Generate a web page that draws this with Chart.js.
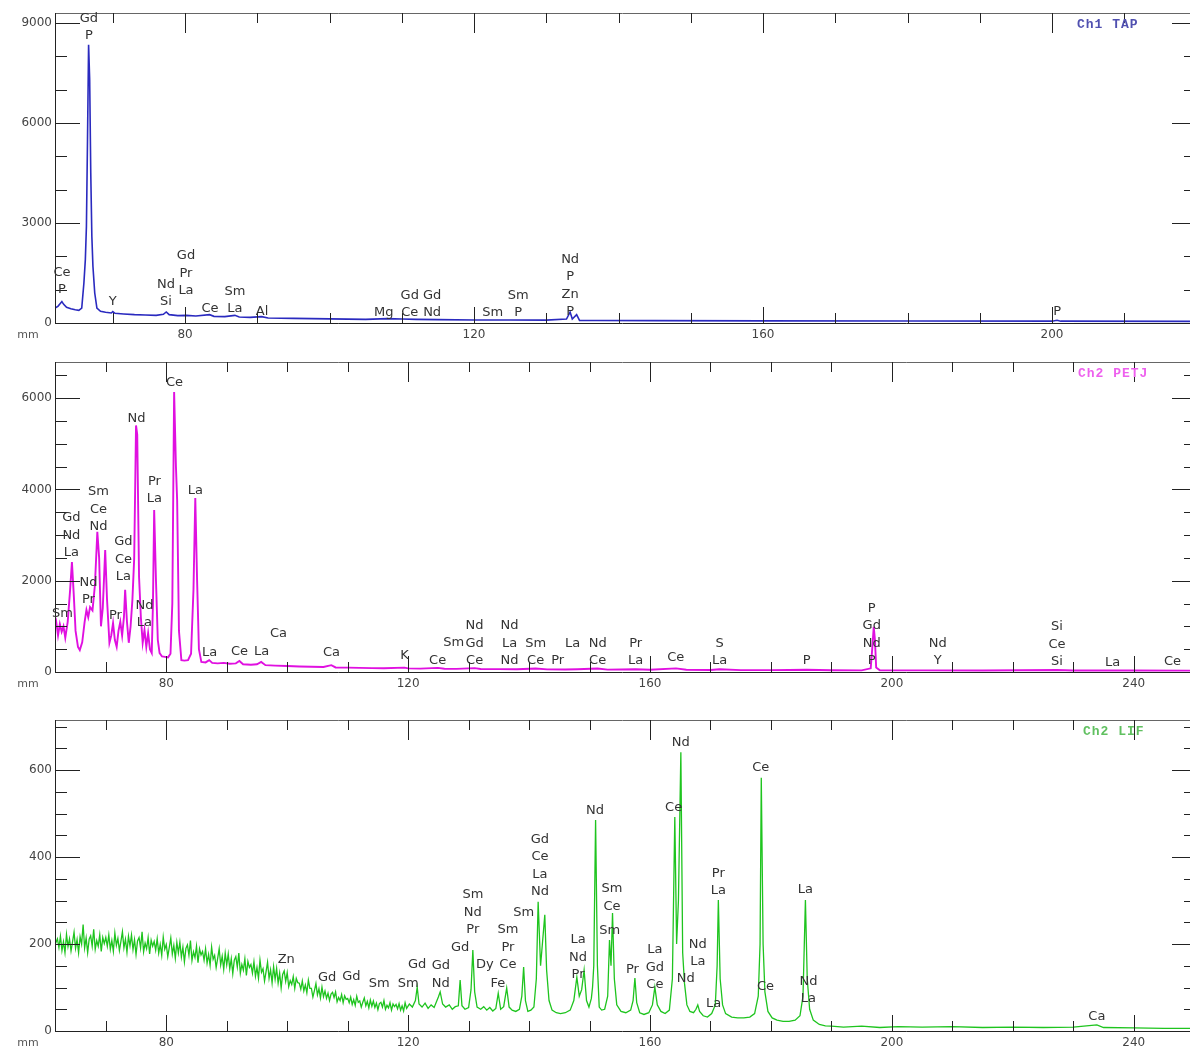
<!DOCTYPE html>
<html>
<head>
<meta charset="utf-8">
<script src="https://cdn.jsdelivr.net/npm/chart.js@4.4.1/dist/chart.umd.min.js"></script>
<style>
html, body { margin: 0; padding: 0; background: #fff; }
body { width: 1191px; height: 1049px; position: relative; overflow: hidden; }
canvas { position: absolute; left: 0; }
</style>
</head>
<body>
<canvas id="tap" width="1191" height="348" style="top:0px"></canvas>
<canvas id="petj" width="1191" height="348" style="top:348px"></canvas>
<canvas id="lif" width="1191" height="353" style="top:696px"></canvas>
<script>
// x tick labels (mm) shared by the three spectrometers
var xTickLabels = [80, 120, 160, 200, 240];

// y tick labels per channel
var tapYTicks = [0, 3000, 6000, 9000];
var petjYTicks = [0, 2000, 4000, 6000];
var lifYTicks = [0, 200, 400, 600];

// Ch1 TAP spectrum [mm, counts]
var tapSpectrum = [
  [62.0, 450], [62.4, 500], [62.7, 580], [62.95, 640], [63.2, 560], [63.6, 470],
  [64.2, 430], [64.8, 400], [65.3, 380], [65.7, 450], [66.0, 1200], [66.2, 1900],
  [66.35, 2900], [66.5, 5500], [66.65, 8350], [66.8, 7300], [66.95, 4500], [67.1, 2600],
  [67.25, 1700], [67.5, 900], [67.8, 450], [68.3, 350], [69.0, 320], [69.8, 300],
  [70.0, 340], [70.3, 290], [71.5, 270], [73.0, 250], [74.5, 240], [76.0, 230],
  [77.0, 260], [77.4, 330], [77.8, 250], [79.0, 220], [80.2, 230], [81.5, 210],
  [83.4, 250], [84.0, 200], [85.5, 190], [86.9, 230], [87.5, 180], [89.0, 170],
  [90.6, 190], [91.5, 150], [95.0, 140], [100.0, 125], [105.0, 110], [108.0, 130],
  [110.0, 120], [112.0, 110], [115.0, 100], [120.0, 90], [125.0, 90], [130.0, 85],
  [132.8, 120], [133.3, 330], [133.6, 120], [134.2, 250], [134.6, 80], [137.0, 75],
  [145.0, 70], [160.0, 65], [180.0, 60], [200.0, 55], [200.7, 80], [201.2, 55], [219.2, 50]
];

// Ch2 PETJ spectrum [mm, counts]
var petjSpectrum = [
  [61.5, 950], [61.8, 1100], [62.1, 800], [62.4, 1050], [62.7, 880], [63.0, 1000],
  [63.3, 750], [63.7, 1100], [64.1, 1800], [64.4, 2410], [64.7, 1700], [65.0, 900],
  [65.4, 550], [65.7, 480], [66.1, 650], [66.5, 1100], [66.8, 1360], [67.1, 1200],
  [67.4, 1420], [67.8, 1350], [68.2, 1900], [68.6, 3070], [68.9, 2500], [69.2, 1000],
  [69.5, 1400], [69.9, 2670], [70.2, 1600], [70.6, 640], [70.9, 800], [71.2, 1070],
  [71.5, 700], [71.8, 550], [72.1, 900], [72.4, 1100], [72.7, 800], [73.0, 1200],
  [73.2, 1800], [73.5, 1100], [73.8, 640], [74.1, 1000], [74.4, 1580], [74.7, 2500],
  [75.0, 5400], [75.2, 5200], [75.5, 2080], [75.8, 1200], [76.1, 640], [76.4, 920],
  [76.7, 550], [77.0, 850], [77.3, 500], [77.6, 415], [77.8, 1500], [78.0, 3550],
  [78.3, 2000], [78.6, 700], [78.9, 415], [79.3, 340], [79.8, 330], [80.3, 320],
  [80.7, 400], [81.0, 1500], [81.3, 6130], [81.6, 4500], [81.8, 3760], [82.1, 900],
  [82.5, 260], [83.0, 250], [83.6, 260], [84.1, 400], [84.5, 1800], [84.8, 3810],
  [85.1, 2000], [85.4, 500], [85.8, 220], [86.5, 210], [87.1, 260], [87.6, 200],
  [88.5, 190], [89.5, 200], [90.5, 180], [91.5, 190], [92.1, 240], [92.7, 170],
  [94.0, 160], [95.0, 170], [95.7, 220], [96.4, 150], [98.0, 140], [100.0, 130],
  [102.0, 120], [104.0, 115], [106.0, 110], [107.3, 150], [108.0, 100], [110.0, 95],
  [112.0, 90], [114.0, 85], [116.0, 82], [119.4, 95], [120.0, 80], [122.0, 75],
  [124.9, 90], [126.0, 70], [128.0, 68], [131.0, 85], [132.0, 65], [135.0, 62],
  [138.0, 60], [141.1, 75], [143.0, 58], [146.0, 55], [148.0, 60], [151.3, 75],
  [153.0, 52], [157.6, 60], [160.0, 50], [164.3, 80], [166.0, 48], [170.0, 45],
  [171.5, 60], [175.0, 42], [180.0, 40], [185.9, 50], [190.0, 38], [195.0, 36],
  [196.5, 80], [196.8, 600], [197.0, 990], [197.2, 700], [197.4, 100], [198.0, 38],
  [205.0, 36], [215.0, 34], [227.3, 45], [230.0, 33], [240.0, 32], [249.4, 30]
];

// Ch2 LIF spectrum [mm, counts], noisy background read as closely as possible
var lifSpectrum = [
  [61.6, 198],
  [62.0, 212], [62.25, 192], [62.5, 218], [62.75, 185], [63.0, 205], [63.25, 180], [63.5, 222], [63.75, 194],
  [64.0, 212], [64.25, 184], [64.5, 205], [64.75, 227], [65.0, 190], [65.25, 210], [65.5, 180], [65.75, 217],
  [66.0, 200], [66.25, 245], [66.5, 191], [66.75, 214], [67.0, 180], [67.25, 211], [67.5, 219], [67.75, 195],
  [68.0, 234], [68.25, 188], [68.5, 208], [68.75, 195], [69.0, 221], [69.25, 183], [69.5, 215], [69.75, 201],
  [70.0, 215], [70.25, 195], [70.5, 221], [70.75, 188], [71.0, 208], [71.25, 183], [71.5, 225], [71.75, 197],
  [72.0, 213], [72.25, 185], [72.5, 206], [72.75, 228], [73.0, 191], [73.25, 211], [73.5, 181], [73.75, 218],
  [74.0, 196], [74.25, 221], [74.5, 187], [74.75, 210], [75.0, 176], [75.25, 207], [75.5, 215], [75.75, 191],
  [76.0, 228], [76.25, 182], [76.5, 202], [76.75, 189], [77.0, 215], [77.25, 177], [77.5, 209], [77.75, 195],
  [78.0, 206], [78.25, 186], [78.5, 212], [78.75, 179], [79.0, 199], [79.25, 174], [79.5, 216], [79.75, 188],
  [80.0, 199], [80.25, 171], [80.5, 192], [80.75, 214], [81.0, 177], [81.25, 197], [81.5, 167], [81.75, 204],
  [82.0, 179], [82.25, 204], [82.5, 170], [82.75, 193], [83.0, 159], [83.25, 190], [83.5, 198], [83.75, 174],
  [84.0, 208], [84.25, 162], [84.5, 182], [84.75, 169], [85.0, 195], [85.25, 157], [85.5, 189], [85.75, 175],
  [86.0, 183], [86.25, 163], [86.5, 189], [86.75, 156], [87.0, 176], [87.25, 151], [87.5, 193], [87.75, 165],
  [88.0, 174], [88.25, 146], [88.5, 167], [88.75, 189], [89.0, 152], [89.25, 172], [89.5, 142], [89.75, 179],
  [90.0, 152], [90.25, 177], [90.5, 143], [90.75, 166], [91.0, 132], [91.25, 163], [91.5, 171], [91.75, 147],
  [92.0, 179], [92.25, 133], [92.5, 153], [92.75, 140], [93.0, 166], [93.25, 128], [93.5, 160], [93.75, 146],
  [94.0, 153], [94.25, 133], [94.5, 159], [94.75, 126], [95.0, 146], [95.25, 121], [95.5, 163], [95.75, 135],
  [96.0, 143], [96.25, 115], [96.5, 136], [96.75, 158], [97.0, 121], [97.25, 141], [97.5, 111], [97.75, 148],
  [98.0, 119], [98.25, 144], [98.5, 110], [98.75, 133], [99.0, 99], [99.25, 130], [99.5, 138], [99.75, 114],
  [100.0, 134], [100.25, 102], [100.5, 116], [100.75, 107], [101.0, 125], [101.25, 98], [101.5, 121], [101.75, 111],
  [102.0, 110], [102.25, 96], [102.5, 115], [102.75, 92], [103.0, 106], [103.25, 88], [103.5, 117], [103.75, 98],
  [104.0, 98], [104.25, 78], [104.5, 93], [104.75, 109], [105.0, 83], [105.25, 97], [105.5, 76], [105.75, 101],
  [106.0, 79], [106.25, 92], [106.5, 75], [106.75, 87], [107.0, 70], [107.25, 85], [107.5, 89], [107.75, 77],
  [108.0, 90], [108.25, 67], [108.5, 77], [108.75, 70], [109.0, 84], [109.25, 65], [109.5, 81], [109.75, 73],
  [110.0, 75], [110.25, 65], [110.5, 78], [110.75, 61], [111.0, 72], [111.25, 59], [111.5, 80], [111.75, 66],
  [112.0, 69], [112.25, 55], [112.5, 66], [112.75, 76], [113.0, 58], [113.25, 68], [113.5, 53], [113.75, 71],
  [114.0, 57], [114.25, 69], [114.5, 54], [114.75, 64], [115.0, 49], [115.25, 63], [115.5, 66], [115.75, 55],
  [116.0, 70], [116.25, 50], [116.5, 59], [116.75, 53], [117.0, 65], [117.25, 48], [117.5, 62], [117.75, 56],
  [118.0, 61], [118.25, 51], [118.5, 63], [118.75, 48], [119.0, 58], [119.25, 46], [119.5, 65], [119.75, 52],
  [120.2, 62], [120.7, 55], [121.2, 70], [121.5, 101], [121.8, 62], [122.3, 55],
  [122.8, 64], [123.3, 52], [123.8, 60], [124.3, 54], [125.0, 78], [125.3, 90],
  [125.7, 62], [126.2, 55], [126.8, 60], [127.3, 50], [127.8, 56], [128.3, 58],
  [128.6, 117], [128.9, 58], [129.4, 50], [130.0, 54], [130.4, 95], [130.7, 186],
  [131.0, 90], [131.4, 55], [132.0, 50], [132.5, 56], [133.0, 48], [133.5, 54],
  [134.0, 46], [134.5, 52], [134.9, 87], [135.3, 50], [135.8, 56], [136.3, 99],
  [136.7, 55], [137.2, 48], [137.8, 45], [138.4, 50], [138.8, 80], [139.1, 147],
  [139.4, 70], [139.8, 45], [140.3, 48], [140.8, 55], [141.2, 120], [141.5, 297],
  [141.9, 150], [142.2, 200], [142.6, 267], [142.9, 140], [143.3, 70], [143.8, 48],
  [144.5, 42], [145.2, 40], [146.0, 42], [146.8, 48], [147.4, 70], [147.9, 124],
  [148.3, 80], [148.7, 95], [149.1, 140], [149.5, 70], [149.9, 55], [150.3, 75],
  [150.5, 101], [150.7, 150], [151.0, 485], [151.3, 150], [151.6, 55], [152.0, 48],
  [152.5, 50], [153.0, 80], [153.3, 209], [153.55, 150], [153.8, 271], [154.1, 120],
  [154.5, 60], [155.2, 45], [156.0, 42], [156.8, 48], [157.2, 70], [157.5, 122],
  [157.8, 65], [158.3, 42], [159.0, 38], [159.8, 42], [160.4, 60], [160.8, 101],
  [161.2, 60], [161.8, 45], [162.5, 40], [163.2, 48], [163.7, 120], [164.1, 492],
  [164.4, 200], [164.7, 300], [165.1, 641], [165.4, 180], [165.7, 110], [166.1, 60],
  [166.6, 45], [167.2, 42], [167.6, 50], [167.9, 60], [168.2, 45], [168.8, 35],
  [169.5, 32], [170.2, 40], [170.8, 60], [171.1, 150], [171.3, 301], [171.6, 120],
  [172.0, 60], [172.5, 40], [173.5, 32], [174.5, 30], [175.5, 30], [176.5, 32],
  [177.3, 40], [177.9, 80], [178.2, 200], [178.4, 582], [178.7, 200], [179.0, 90],
  [179.5, 45], [180.2, 30], [181.0, 25], [182.0, 22], [183.0, 22], [184.0, 25],
  [184.8, 35], [185.3, 80], [185.7, 301], [186.0, 120], [186.4, 50], [187.0, 25],
  [188.0, 15], [189.0, 12], [190.0, 11], [192.0, 9], [195.0, 11], [198.0, 8],
  [201.0, 10], [205.0, 9], [210.0, 10], [215.0, 8], [220.0, 9], [225.0, 8],
  [230.0, 9], [233.9, 14], [235.0, 8], [240.0, 7], [245.0, 6], [249.4, 6]
];

// peak labels [mm, counts of lowest line, lines top to bottom]
var tapPeakLabels = [
  [62.97, 990, ['Ce', 'P']],
  [66.7, 8610, ['Gd', 'P']],
  [70.0, 630, ['Y']],
  [77.36, 630, ['Nd', 'Si']],
  [80.13, 960, ['Gd', 'Pr', 'La']],
  [83.45, 420, ['Ce']],
  [86.9, 420, ['Sm', 'La']],
  [90.65, 330, ['Al']],
  [107.5, 300, ['Mg']],
  [111.1, 300, ['Gd', 'Ce']],
  [114.2, 300, ['Gd', 'Nd']],
  [122.6, 300, ['Sm']],
  [126.1, 300, ['Sm', 'P']],
  [133.3, 330, ['Nd', 'P', 'Zn', 'P']],
  [200.7, 330, ['P']]
];

var petjPeakLabels = [
  [62.82, 1270, ['Sm']],
  [64.31, 2606, ['Gd', 'Nd', 'La']],
  [67.13, 1577, ['Nd', 'Pr']],
  [68.78, 3176, ['Sm', 'Ce', 'Nd']],
  [71.59, 1226, ['Pr']],
  [72.92, 2080, ['Gd', 'Ce', 'La']],
  [75.07, 5541, ['Nd']],
  [76.39, 1073, ['Nd', 'La']],
  [78.05, 3789, ['Pr', 'La']],
  [81.35, 6329, ['Ce']],
  [84.83, 3964, ['La']],
  [87.15, 416, ['La']],
  [92.11, 438, ['Ce']],
  [95.75, 438, ['La']],
  [98.56, 832, ['Ca']],
  [107.33, 416, ['Ca']],
  [119.41, 350, ['K']],
  [124.87, 241, ['Ce']],
  [127.52, 635, ['Sm']],
  [130.99, 241, ['Nd', 'Gd', 'Ce']],
  [136.78, 241, ['Nd', 'La', 'Nd']],
  [141.08, 241, ['Sm', 'Ce']],
  [144.72, 241, ['Pr']],
  [147.2, 613, ['La']],
  [151.34, 241, ['Nd', 'Ce']],
  [157.63, 241, ['Pr', 'La']],
  [164.25, 307, ['Ce']],
  [171.5, 241, ['S', 'La']],
  [185.9, 241, ['P']],
  [196.67, 241, ['P', 'Gd', 'Nd', 'P']],
  [207.6, 241, ['Nd', 'Y']],
  [227.3, 219, ['Si', 'Ce', 'Si']],
  [236.5, 197, ['La']],
  [246.4, 219, ['Ce']]
];

var lifPeakLabels = [
  [99.84, 163, ['Zn']],
  [106.6, 122, ['Gd']],
  [110.6, 124, ['Gd']],
  [115.2, 108, ['Sm']],
  [120.0, 110, ['Sm']],
  [121.5, 152, ['Gd']],
  [125.4, 110, ['Gd', 'Nd']],
  [128.6, 191, ['Gd']],
  [130.7, 232, ['Sm', 'Nd', 'Pr']],
  [132.7, 152, ['Dy']],
  [134.85, 110, ['Fe']],
  [136.5, 152, ['Sm', 'Pr', 'Ce']],
  [139.1, 271, ['Sm']],
  [141.8, 320, ['Gd', 'Ce', 'La', 'Nd']],
  [148.1, 129, ['La', 'Nd', 'Pr']],
  [150.9, 506, ['Nd']],
  [153.7, 287, ['Sm', 'Ce']],
  [153.35, 230, ['Sm']],
  [157.1, 140, ['Pr']],
  [160.8, 106, ['La', 'Gd', 'Ce']],
  [163.9, 513, ['Ce']],
  [165.1, 662, ['Nd']],
  [165.9, 120, ['Nd']],
  [167.9, 159, ['Nd', 'La']],
  [171.3, 322, ['Pr', 'La']],
  [170.5, 64, ['La']],
  [178.3, 605, ['Ce']],
  [179.1, 103, ['Ce']],
  [185.7, 324, ['La']],
  [186.2, 74, ['Nd', 'La']],
  [233.9, 34, ['Ca']]
];

var spectrumPlugin = {
  id: 'spectrum',
  afterDatasetsDraw: function (chart, args, opts) {
    var ctx = chart.ctx, a = chart.chartArea;
    var xs = chart.scales.x, ys = chart.scales.y;
    ctx.save();
    ctx.lineWidth = 1;
    // frame
    ctx.strokeStyle = '#666';
    ctx.beginPath();
    ctx.moveTo(a.left, a.top + 0.5); ctx.lineTo(a.right, a.top + 0.5);
    ctx.stroke();
    ctx.strokeStyle = '#222';
    ctx.beginPath();
    ctx.moveTo(a.left + 0.5, a.top); ctx.lineTo(a.left + 0.5, a.bottom + 1);
    ctx.moveTo(a.left, a.bottom + 0.5); ctx.lineTo(a.right, a.bottom + 0.5);
    ctx.stroke();
    // x ticks, top and bottom
    ctx.beginPath();
    for (var v = Math.ceil(xs.min / 10) * 10; v <= xs.max; v += 10) {
      var px = Math.round(xs.getPixelForValue(v)) + 0.5;
      var major = v % 40 === 0;
      ctx.moveTo(px, a.bottom); ctx.lineTo(px, a.bottom - (major ? 16 : 10));
      ctx.moveTo(px, a.top); ctx.lineTo(px, a.top + (major ? 20 : 10));
    }
    // y ticks, left and right
    for (var w = 0; w <= ys.max; w += opts.yMinor) {
      var py = Math.round(ys.getPixelForValue(w)) + 0.5;
      var maj = w % opts.yMajor === 0;
      ctx.moveTo(a.left, py); ctx.lineTo(a.left + (maj ? 25 : 12), py);
      ctx.moveTo(a.right, py); ctx.lineTo(a.right - (maj ? 18 : 6), py);
    }
    ctx.stroke();
    // unit
    ctx.fillStyle = '#555';
    ctx.font = '11px "DejaVu Sans"';
    ctx.textAlign = 'center';
    ctx.textBaseline = 'middle';
    ctx.fillText('mm', 28, a.bottom + 12);
    // peak labels
    ctx.fillStyle = '#333';
    ctx.font = '13px "DejaVu Sans"';
    opts.labels.forEach(function (lab) {
      var lx = xs.getPixelForValue(lab[0]);
      var ly = ys.getPixelForValue(lab[1]);
      var lines = lab[2];
      for (var i = 0; i < lines.length; i++) {
        ctx.fillText(lines[lines.length - 1 - i], lx, ly - i * 17.5);
      }
    });
    // channel title
    ctx.fillStyle = opts.titleColor;
    ctx.font = 'bold 13px "Liberation Mono"';
    ctx.letterSpacing = '1px';
    ctx.textAlign = 'left';
    ctx.fillText(opts.title, opts.titleX, a.top + 12);
    ctx.restore();
  }
};

function makePanel(id, cfg) {
  var canvas = document.getElementById(id);
  var H = canvas.height;
  new Chart(canvas, {
    type: 'line',
    data: {
      datasets: [{
        data: cfg.points.map(function (p) { return { x: p[0], y: p[1] }; }),
        borderColor: cfg.color,
        borderWidth: cfg.lineWidth,
        pointRadius: 0,
        tension: 0,
        fill: false
      }]
    },
    options: {
      responsive: false,
      animation: false,
      layout: { padding: { top: cfg.areaTop, bottom: H - cfg.areaBottom - 18, left: 0, right: 1 } },
      plugins: {
        legend: { display: false },
        tooltip: { enabled: false },
        spectrum: {
          yMinor: cfg.yMinor, yMajor: cfg.yMajor, labels: cfg.labels,
          title: cfg.title, titleColor: cfg.titleColor, titleX: cfg.titleX
        }
      },
      scales: {
        x: {
          type: 'linear', min: cfg.xMin, max: cfg.xMax,
          afterFit: function (s) { s.height = 18; },
          afterBuildTicks: function (s) {
            s.ticks = xTickLabels.filter(function (v) { return v >= cfg.xMin && v <= cfg.xMax; })
              .map(function (v) { return { value: v }; });
          },
          grid: { display: false, drawTicks: false },
          border: { display: false },
          ticks: {
            padding: 5, color: '#444', maxRotation: 0, autoSkip: false,
            font: { family: 'DejaVu Sans', size: 12 },
            callback: function (v) { return String(v); }
          }
        },
        y: {
          type: 'linear', min: 0, max: cfg.yMax,
          afterFit: function (s) { s.width = 55; },
          afterBuildTicks: function (s) {
            s.ticks = cfg.yTicks.map(function (v) { return { value: v }; });
          },
          grid: { display: false, drawTicks: false },
          border: { display: false },
          ticks: {
            padding: 3, color: '#444', autoSkip: false,
            font: { family: 'DejaVu Sans', size: 12 },
            callback: function (v) { return String(v); }
          }
        }
      }
    },
    plugins: [spectrumPlugin]
  });
}

makePanel('tap', {
  points: tapSpectrum, labels: tapPeakLabels, yTicks: tapYTicks,
  color: '#2a2abf', lineWidth: 1.6,
  xMin: 62, xMax: 219.1, yMax: 9300, yMinor: 1000, yMajor: 3000,
  areaTop: 13, areaBottom: 323,
  title: 'Ch1 TAP', titleColor: '#5050b0', titleX: 1077
});
makePanel('petj', {
  points: petjSpectrum, labels: petjPeakLabels, yTicks: petjYTicks,
  color: '#e010e0', lineWidth: 1.9,
  xMin: 61.6, xMax: 249.3, yMax: 6790, yMinor: 500, yMajor: 2000,
  areaTop: 14, areaBottom: 324,
  title: 'Ch2 PETJ', titleColor: '#ee60ee', titleX: 1078
});
makePanel('lif', {
  points: lifSpectrum, labels: lifPeakLabels, yTicks: lifYTicks,
  color: '#1ec41e', lineWidth: 1.3,
  xMin: 61.6, xMax: 249.3, yMax: 715, yMinor: 50, yMajor: 200,
  areaTop: 24, areaBottom: 335,
  title: 'Ch2 LIF', titleColor: '#60c060', titleX: 1083
});
</script>
</body>
</html>
